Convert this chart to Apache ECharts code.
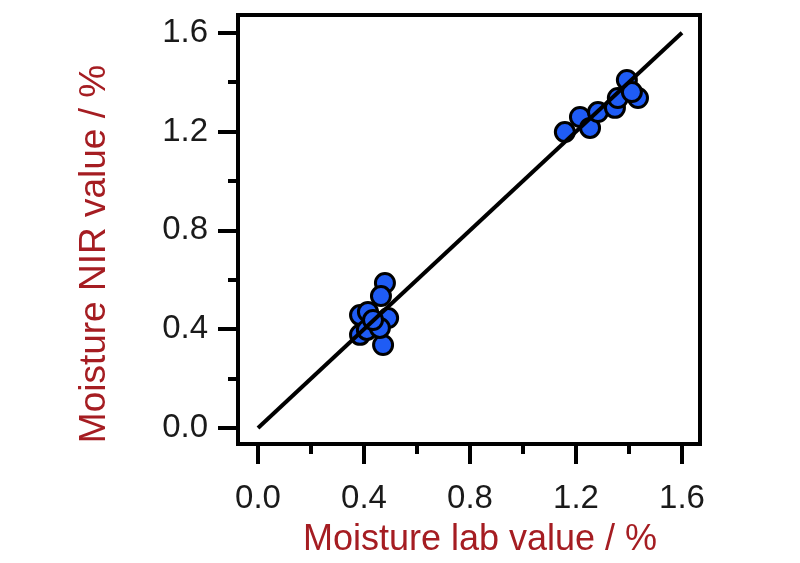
<!DOCTYPE html>
<html>
<head>
<meta charset="utf-8">
<script src="https://cdn.jsdelivr.net/npm/echarts@6/dist/echarts.min.js"></script>
<style>
  html, body { margin: 0; padding: 0; background: #fff; }
  #chart { width: 800px; height: 563px; }
</style>
</head>
<body>
<div id="chart"></div>
<script>
// lab value vs NIR predicted value (%)
const labValues = [0.479, 0.464, 0.491, 0.472, 0.385, 0.415, 0.385, 0.411, 0.460, 0.434,
                   1.158, 1.215, 1.253, 1.283, 1.347, 1.358, 1.392, 1.434, 1.411];
const nirValues = [0.587, 0.534, 0.445, 0.336, 0.457, 0.470, 0.377, 0.397, 0.405, 0.437,
                   1.198, 1.259, 1.215, 1.279, 1.296, 1.336, 1.409, 1.336, 1.360];
// 1:1 line ends
const fitX = [0, 1.6];
const fitY = [0, 1.6];
const majorTicks = [0, 0.4, 0.8, 1.2, 1.6];
const minorTicks = [0.2, 0.6, 1.0, 1.4];

const titleColor = '#a51d22';
const font = 'Liberation Sans, Arial, sans-serif';

const points = labValues.map((v, i) => [v, nirValues[i]]);
const fitLine = fitX.map((v, i) => [v, fitY[i]]);

function axisPair(min, max, pos) {
  const major = {
    type: 'value', min: min, max: max, position: pos,
    axisLine: { show: false, onZero: false },
    splitLine: { show: false },
    axisTick: { show: true, customValues: majorTicks, length: 20,
                lineStyle: { color: '#000', width: 4 } },
    axisLabel: { show: true, customValues: majorTicks,
                 formatter: v => v.toFixed(1),
                 fontSize: 33, fontFamily: font, color: '#1a1a1a',
                 margin: pos === 'left' ? 30 : 38 }
  };
  const minor = {
    type: 'value', min: min, max: max, position: pos,
    axisLine: { show: false, onZero: false },
    splitLine: { show: false },
    axisTick: { show: true, customValues: minorTicks, length: 10,
                lineStyle: { color: '#000', width: 4 } },
    axisLabel: { show: false }
  };
  return [major, minor];
}

const chart = echarts.init(document.getElementById('chart'));
chart.setOption({
  animation: false,
  backgroundColor: '#fff',
  grid: { left: 238, right: 100, top: 15, bottom: 119, show: true,
          borderColor: '#000', borderWidth: 4, backgroundColor: 'transparent' },
  xAxis: axisPair(-0.0755, 1.668, 'bottom'),
  yAxis: axisPair(-0.0648, 1.672, 'left'),
  graphic: [
    { type: 'text', x: 480, y: 540,
      style: { text: 'Moisture lab value / %', fontSize: 36, fontFamily: font,
               fill: titleColor, align: 'center', verticalAlign: 'middle' } },
    { type: 'text', x: 95, y: 254, rotation: Math.PI / 2,
      style: { text: 'Moisture NIR value / %', fontSize: 37, fontFamily: font,
               fill: titleColor, align: 'center', verticalAlign: 'middle' } }
  ],
  series: [
    {
      type: 'scatter', data: points, symbol: 'circle', symbolSize: 19,
      itemStyle: { color: '#1f5cf5', borderColor: '#000', borderWidth: 3, opacity: 1 },
      z: 2
    },
    {
      type: 'line', data: fitLine, symbol: 'none',
      lineStyle: { color: '#000', width: 4 }, z: 3
    }
  ]
});
</script>
</body>
</html>
